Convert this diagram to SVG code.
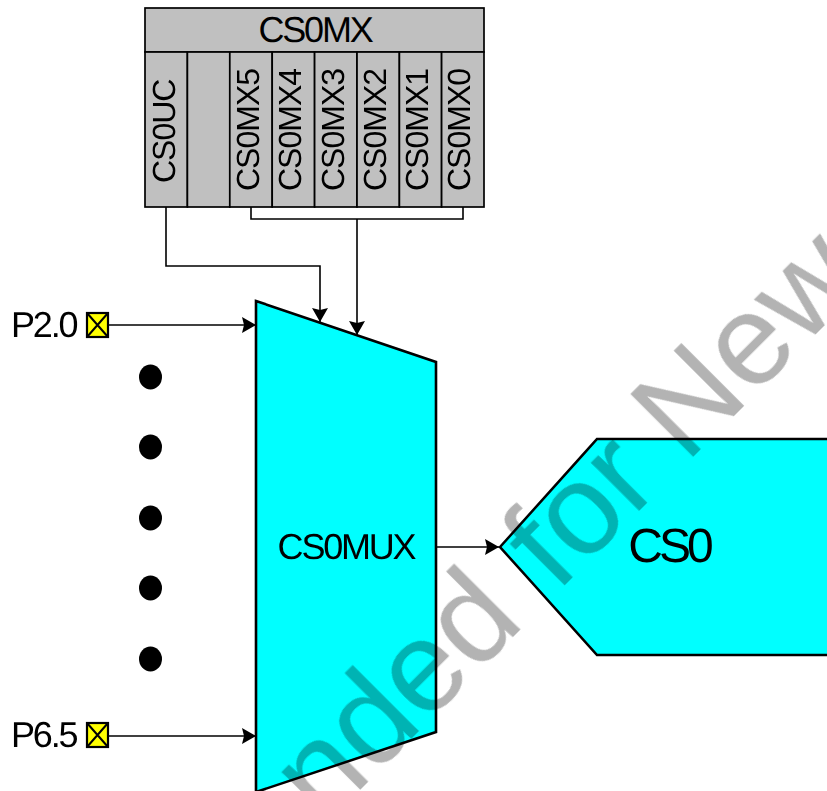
<svg xmlns="http://www.w3.org/2000/svg" width="827" height="791" viewBox="0 0 827 791">
<style>
text{font-family:"Liberation Sans",Arial,sans-serif;fill:#000;text-rendering:geometricPrecision}
.reg{fill:#c0c0c0;stroke:#000;stroke-width:1.7}
.shape{fill:#00ffff;stroke:#000;stroke-width:2.6;stroke-linejoin:miter}
.wire{fill:none;stroke:#000;stroke-width:1.6}
.lab{font-size:36px;letter-spacing:-2.2px}
.vert{font-size:32px;letter-spacing:-1px;text-anchor:start}
.pad{fill:#ffff00;stroke:#000;stroke-width:2.2}
.wm{font-size:129px;fill:#b3b3b3;mix-blend-mode:multiply}
</style>
<defs>
<marker id="arrow" markerUnits="userSpaceOnUse" markerWidth="15" markerHeight="17" refX="14" refY="8.500" orient="auto">
<path d="M0 0.500L14 8.500L0 16.500L2 8.500Z" fill="#000"/>
</marker>
</defs>
<g id="CS0MX">
<rect class="reg" x="145" y="8" width="339" height="44"/>
<rect class="reg" x="145" y="52" width="42.4" height="155"/>
<rect class="reg" x="187.4" y="52" width="42.4" height="155"/>
<rect class="reg" x="229.8" y="52" width="42.4" height="155"/>
<rect class="reg" x="272.2" y="52" width="42.4" height="155"/>
<rect class="reg" x="314.6" y="52" width="42.4" height="155"/>
<rect class="reg" x="357" y="52" width="42.4" height="155"/>
<rect class="reg" x="399.4" y="52" width="42.2" height="155"/>
<rect class="reg" x="441.6" y="52" width="42.4" height="155"/>
<text class="lab" x="315" y="42" text-anchor="middle">CS0MX</text>
<text class="vert" transform="translate(175,183) rotate(-90)">CS0UC</text>
<text class="vert" transform="translate(259,191) rotate(-90)">CS0MX5</text>
<text class="vert" transform="translate(301,191) rotate(-90)">CS0MX4</text>
<text class="vert" transform="translate(343.500,191) rotate(-90)">CS0MX3</text>
<text class="vert" transform="translate(386,191) rotate(-90)">CS0MX2</text>
<text class="vert" transform="translate(428,191) rotate(-90)">CS0MX1</text>
<text class="vert" transform="translate(470,191) rotate(-90)">CS0MX0</text>
</g>
<g id="CS0MUX">
<polygon class="shape" points="256,301 436,362 436,732 256,792"/>
<text class="lab" x="346" y="559" text-anchor="middle">CS0MUX</text>
</g>
<g id="CS0">
<polygon class="shape" points="500,547 597,439 830,439 830,655 597,655"/>
<text x="669" y="562" text-anchor="middle" font-size="48" letter-spacing="-4">CS0</text>
</g>
<g id="P2.0">
<text class="lab" x="11" y="337">P2.0</text>
<rect class="pad" x="87" y="313" width="21" height="24"/>
<path d="M87 313L108 337M108 313L87 337" stroke="#000" stroke-width="2"/>
</g>
<g id="P6.5">
<text class="lab" x="11" y="747">P6.5</text>
<rect class="pad" x="87" y="723" width="21" height="24"/>
<path d="M87 723L108 747M108 723L87 747" stroke="#000" stroke-width="2"/>
</g>
<g id="dots">
<ellipse cx="150.500" cy="377" rx="11.500" ry="12.500"/>
<ellipse cx="150.500" cy="447" rx="11.500" ry="12.500"/>
<ellipse cx="150.500" cy="518" rx="11.500" ry="12.500"/>
<ellipse cx="150.500" cy="588" rx="11.500" ry="12.500"/>
<ellipse cx="150.500" cy="659" rx="11.500" ry="12.500"/>
</g>
<g id="connectors">
<path class="wire" d="M166 207V266H320V322" marker-end="url(#arrow)"/>
<path class="wire" d="M251 207V219H463V207"/>
<path class="wire" d="M357 219V335" marker-end="url(#arrow)"/>
<path class="wire" d="M109 325H256" marker-end="url(#arrow)"/>
<path class="wire" d="M109 736H256" marker-end="url(#arrow)"/>
<path class="wire" d="M437 547H499" marker-end="url(#arrow)"/>
</g>
<text class="wm" transform="translate(323.500,826.500) rotate(-45)">nded <tspan dx="7">for </tspan><tspan dx="-4">New</tspan></text>
</svg>
